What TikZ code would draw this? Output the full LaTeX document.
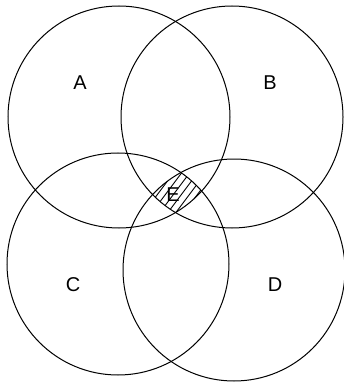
\documentclass[tikz,border=0pt]{standalone}
\usepackage{fontspec}
\setmainfont{Liberation Sans}
\begin{document}
\begin{tikzpicture}[x=1pt,y=-1pt,
  ring/.style={draw=black,line width=1pt},
  lbl/.style={font=\fontsize{20}{24}\selectfont,inner sep=0pt},
  hatch/.style={draw=black,line width=0.9pt}]
\useasboundingbox (0,0) rectangle (343,382);
\fill[white] (0,0) rectangle (343,382);
\begin{scope}
  \clip (119,117) circle[radius=111];
  \clip (232,117) circle[radius=111];
  \clip (118,264) circle[radius=111];
  \clip (234,270) circle[radius=111];
  \foreach \i in {-10,...,10} {
    \draw[hatch] (175+\i*8,235) -- ++(60,-80);
  }
\end{scope}
\draw[ring] (119,117) circle[radius=111];
\draw[ring] (232,117) circle[radius=111];
\draw[ring] (118,264) circle[radius=111];
\draw[ring] (234,270) circle[radius=111];
\node[lbl] (A) at (80,83) {A};
\node[lbl] (B) at (270,83) {B};
\node[lbl] (C) at (73,285) {C};
\node[lbl] (D) at (275,285) {D};
\node[lbl] (E) at (173,195) {E};
\end{tikzpicture}
\end{document}
